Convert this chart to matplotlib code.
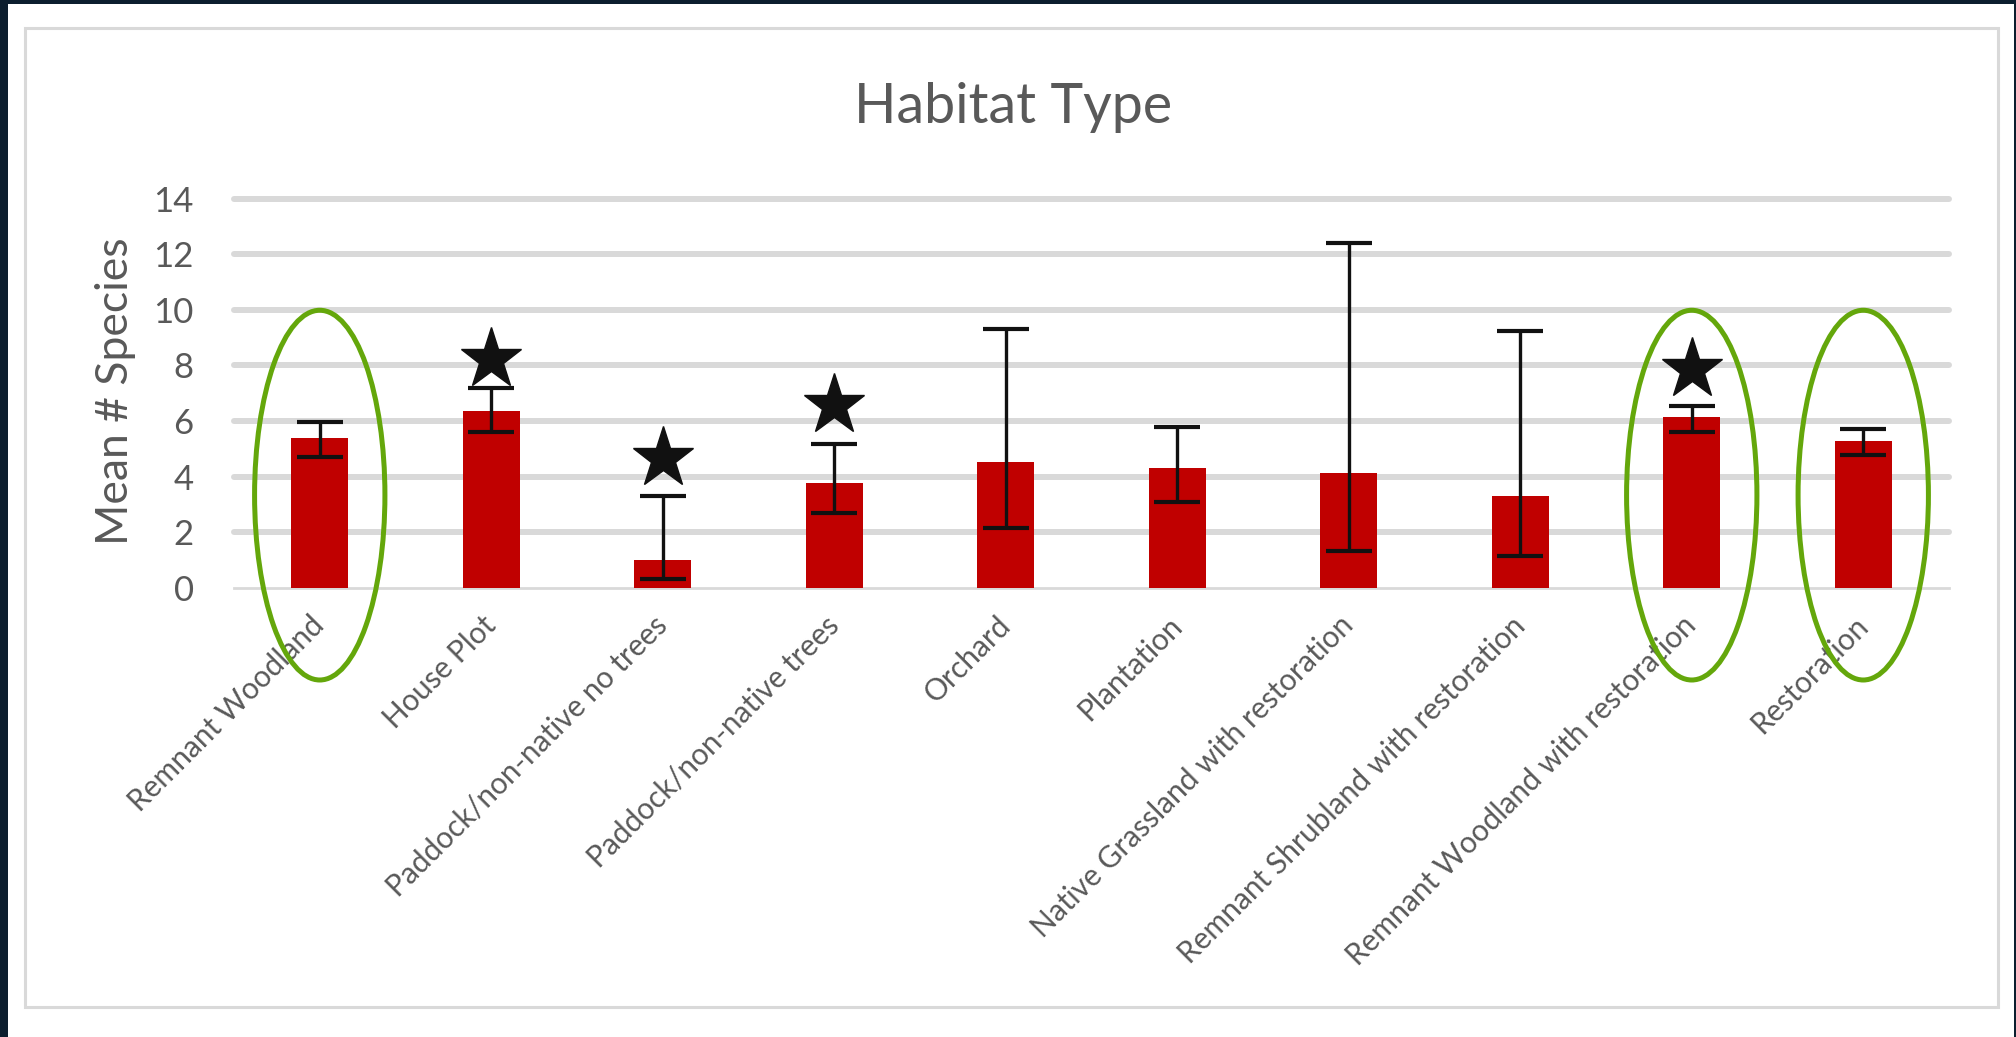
import matplotlib
matplotlib.use("Agg")
import matplotlib.pyplot as plt
from matplotlib.patches import Ellipse, Rectangle
import numpy as np

# ---- data ----
categories = ["Remnant Woodland", "House Plot", "Paddock/non-native no trees",
              "Paddock/non-native trees", "Orchard", "Plantation",
              "Native Grassland with restoration", "Remnant Shrubland with restoration",
              "Remnant Woodland with restoration", "Restoration"]
means = [5.37, 6.37, 1.00, 3.76, 4.53, 4.29, 4.14, 3.30, 6.15, 5.29]
err_low = [4.71, 5.61, 0.30, 2.68, 2.16, 3.07, 1.32, 1.15, 5.61, 4.77]
err_high = [5.95, 7.17, 3.31, 5.17, 9.31, 5.77, 12.39, 9.23, 6.55, 5.71]
star_idx = [1, 2, 3, 8]
star_y = [8.23, 4.68, 6.58, 7.87]
circled_idx = [0, 8, 9]
yticks = [0, 2, 4, 6, 8, 10, 12, 14]
title = "Habitat Type"
ylabel = "Mean # Species"

plt.rcParams['font.family'] = ['Lato', 'DejaVu Sans']
TXT = '#595959'
GRID = '#d9d9d9'

W, H = 2016, 1037
fig = plt.figure(figsize=(W / 100, H / 100), dpi=100)
fig.patch.set_facecolor('#0c1e2e')

# white panel and light gray frame
fig.patches.append(Rectangle((8 / W, 0), (2014 - 8) / W, (H - 4) / H,
                             transform=fig.transFigure, facecolor='white',
                             edgecolor='none', zorder=-3))
fig.patches.append(Rectangle((25 / W, 1 - 1007 / H), (1998 - 25) / W, (1007 - 28) / H,
                             transform=fig.transFigure, facecolor='none',
                             edgecolor=GRID, linewidth=2.2, zorder=-2))

left, right = 234, 1949
y0, ytop = 587.7, 198.5
ax = fig.add_axes([left / W, 1 - y0 / H, (right - left) / W, (y0 - ytop) / H])
ax.set_facecolor('none')

x = np.arange(len(categories))
means_a = np.array(means)
yerr = [means_a - np.array(err_low), np.array(err_high) - means_a]

ax.bar(x, means, width=0.33, color='#c00000', zorder=3)
ax.errorbar(x, means, yerr=yerr, fmt='none', ecolor='#111111', elinewidth=2.4,
            capsize=16.5, capthick=3.0, zorder=4)

for t in yticks[1:]:
    ax.axhline(t, color=GRID, linewidth=4.3, solid_capstyle='round', zorder=1,
               clip_on=False)

ax.plot(x[star_idx], star_y, linestyle='none', marker='*', markersize=46,
        color='#111111', zorder=5, clip_on=False)

for i in circled_idx:
    ax.add_patch(Ellipse((x[i], 3.33), 0.76, 13.3, fill=False, edgecolor='#64a70b',
                         linewidth=3.6, zorder=6, clip_on=False))

ax.set_xlim(-0.5, len(categories) - 0.5)
ax.set_ylim(0, 14)
ax.set_yticks(yticks)
ax.set_yticklabels([str(t) for t in yticks], fontsize=25, color=TXT)
ax.tick_params(axis='y', length=0, pad=29)
ax.set_xticks(x)
ax.set_xticklabels(categories, rotation=45, ha='right', va='center',
                   rotation_mode='anchor', fontsize=21.5, color=TXT)
ax.tick_params(axis='x', length=0, pad=24)

for s in ['top', 'right', 'left']:
    ax.spines[s].set_visible(False)
ax.spines['bottom'].set_color(GRID)
ax.spines['bottom'].set_linewidth(2.0)
ax.spines['bottom'].set_zorder(1)

fig.text(1013.5 / W, 1 - 123 / H, title, ha='center', va='baseline',
         fontsize=40, color=TXT)
fig.text(128.3 / W, 1 - 391.5 / H, ylabel, rotation=90, rotation_mode='anchor',
         ha='center', va='baseline', fontsize=32, color=TXT)

fig.savefig('out.png', dpi=100, facecolor=fig.get_facecolor())
